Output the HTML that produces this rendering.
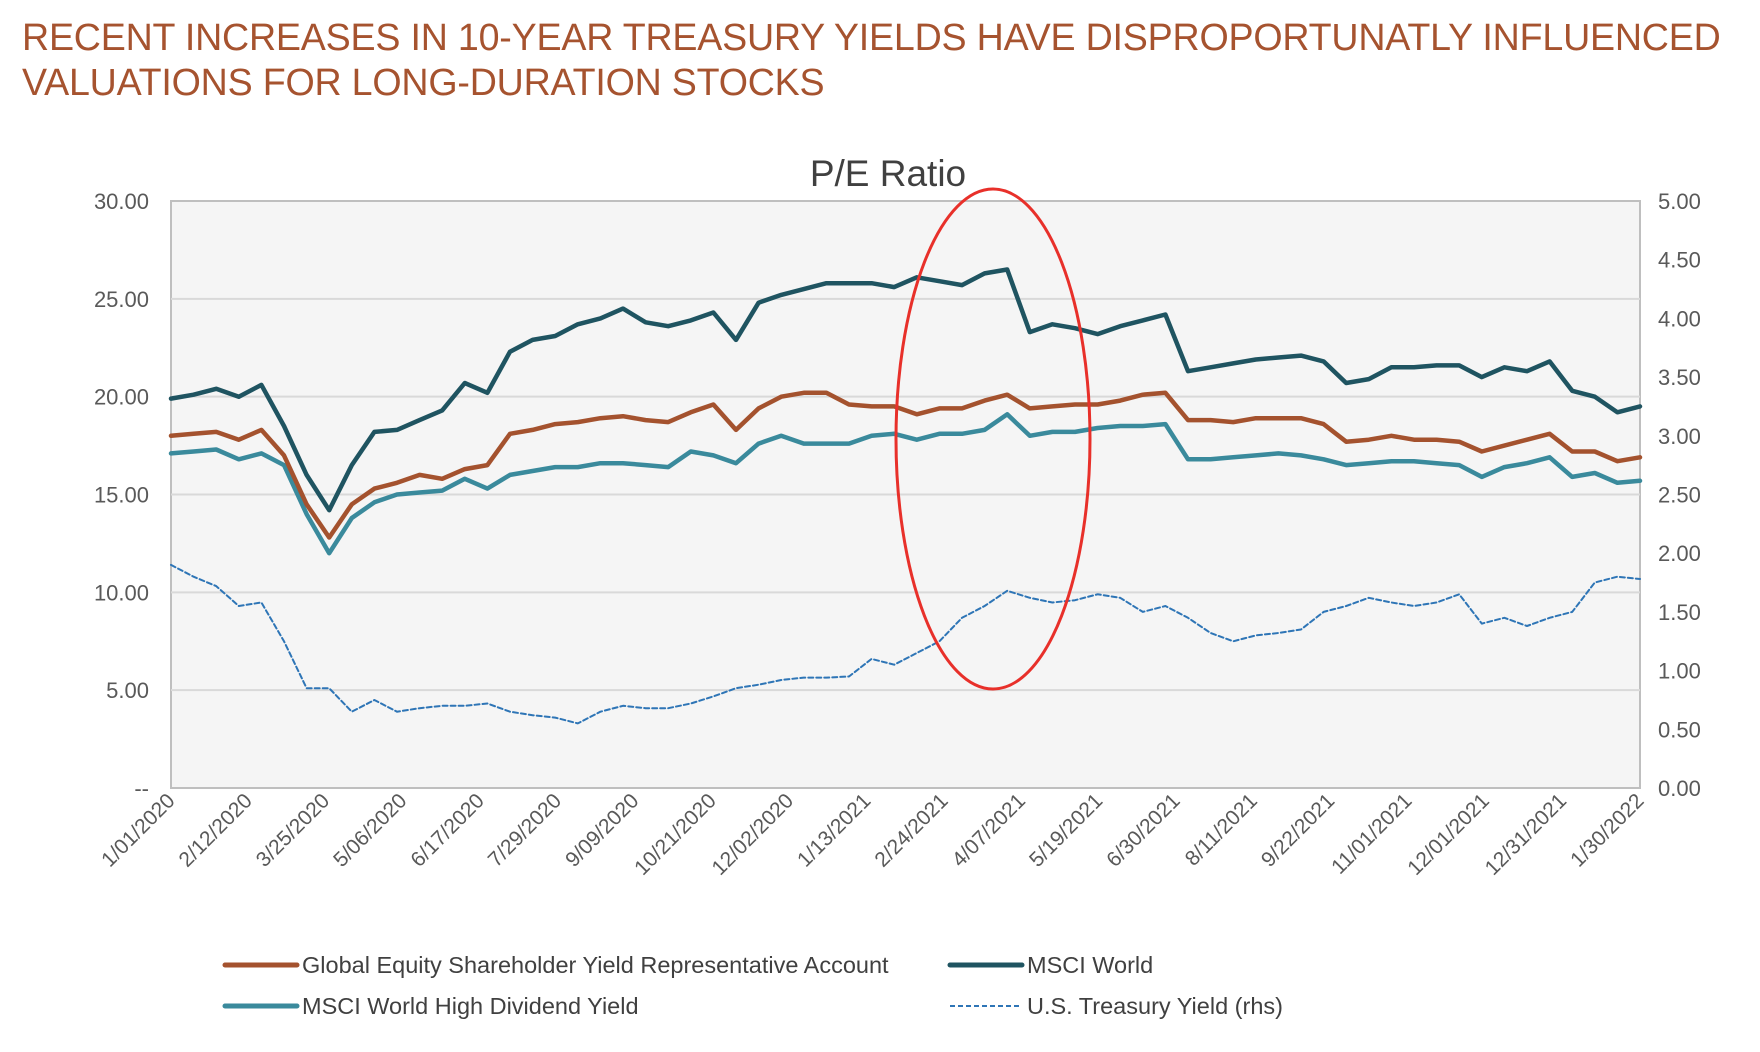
<!DOCTYPE html>
<html><head><meta charset="utf-8"><style>
body{margin:0;background:#fff;width:1760px;height:1052px;overflow:hidden;font-family:"Liberation Sans",sans-serif}
.title{position:absolute;left:22px;top:15px;color:#A6532F;font-size:37.6px;line-height:45px;letter-spacing:-0.2px}
</style></head><body>
<div class="title">RECENT INCREASES IN 10-YEAR TREASURY YIELDS HAVE DISPROPORTUNATLY INFLUENCED<br>VALUATIONS FOR LONG-DURATION STOCKS</div>
<svg id="chart" width="1760" height="1052" style="position:absolute;left:0;top:0"></svg>
<script>
const xLabels=["1/01/2020","2/12/2020","3/25/2020","5/06/2020","6/17/2020","7/29/2020","9/09/2020","10/21/2020","12/02/2020","1/13/2021","2/24/2021","4/07/2021","5/19/2021","6/30/2021","8/11/2021","9/22/2021","11/01/2021","12/01/2021","12/31/2021","1/30/2022"];
const leftTicks=[0,5,10,15,20,25,30];
const rightTicks=[0,0.5,1,1.5,2,2.5,3,3.5,4,4.5,5];
const msciWorld=[19.9,20.1,20.4,20.0,20.6,18.5,16.0,14.2,16.5,18.2,18.3,18.8,19.3,20.7,20.2,22.3,22.9,23.1,23.7,24.0,24.5,23.8,23.6,23.9,24.3,22.9,24.8,25.2,25.5,25.8,25.8,25.8,25.6,26.1,25.9,25.7,26.3,26.5,23.3,23.7,23.5,23.2,23.6,23.9,24.2,21.3,21.5,21.7,21.9,22.0,22.1,21.8,20.7,20.9,21.5,21.5,21.6,21.6,21.0,21.5,21.3,21.8,20.3,20.0,19.2,19.5];
const gesy=[18.0,18.1,18.2,17.8,18.3,17.0,14.5,12.8,14.5,15.3,15.6,16.0,15.8,16.3,16.5,18.1,18.3,18.6,18.7,18.9,19.0,18.8,18.7,19.2,19.6,18.3,19.4,20.0,20.2,20.2,19.6,19.5,19.5,19.1,19.4,19.4,19.8,20.1,19.4,19.5,19.6,19.6,19.8,20.1,20.2,18.8,18.8,18.7,18.9,18.9,18.9,18.6,17.7,17.8,18.0,17.8,17.8,17.7,17.2,17.5,17.8,18.1,17.2,17.2,16.7,16.9];
const highDiv=[17.1,17.2,17.3,16.8,17.1,16.5,14.0,12.0,13.8,14.6,15.0,15.1,15.2,15.8,15.3,16.0,16.2,16.4,16.4,16.6,16.6,16.5,16.4,17.2,17.0,16.6,17.6,18.0,17.6,17.6,17.6,18.0,18.1,17.8,18.1,18.1,18.3,19.1,18.0,18.2,18.2,18.4,18.5,18.5,18.6,16.8,16.8,16.9,17.0,17.1,17.0,16.8,16.5,16.6,16.7,16.7,16.6,16.5,15.9,16.4,16.6,16.9,15.9,16.1,15.6,15.7];
const treasury=[1.90,1.80,1.72,1.55,1.58,1.25,0.85,0.85,0.65,0.75,0.65,0.68,0.70,0.70,0.72,0.65,0.62,0.60,0.55,0.65,0.70,0.68,0.68,0.72,0.78,0.85,0.88,0.92,0.94,0.94,0.95,1.10,1.05,1.15,1.25,1.45,1.55,1.68,1.62,1.58,1.60,1.65,1.62,1.50,1.55,1.45,1.32,1.25,1.30,1.32,1.35,1.50,1.55,1.62,1.58,1.55,1.58,1.65,1.40,1.45,1.38,1.45,1.50,1.75,1.80,1.78];

const L=171,R=1640,T=201,B=788;
const NS="http://www.w3.org/2000/svg";
const svg=document.getElementById('chart');
function el(tag,attrs,parent){const e=document.createElementNS(NS,tag);for(const k in attrs)e.setAttribute(k,attrs[k]);(parent||svg).appendChild(e);return e;}
const xs=i=>L+(R-L)*i/(msciWorld.length-1);
const yl=v=>B-(B-T)*v/30;
const yr=v=>B-(B-T)*v/5;

const title=el('text',{x:888,y:186,'text-anchor':'middle','font-size':37,fill:'#404040'});
title.textContent='P/E Ratio';



const bg=el('rect',{x:L,y:T,width:R-L,height:B-T,fill:'#f5f5f5',stroke:'#bfbfbf','stroke-width':2});



leftTicks.forEach(v=>{
  if(v>0&&v<30){const g=el('line',{x1:L,x2:R,y1:yl(v),y2:yl(v),stroke:'#d9d9d9','stroke-width':2});
  
  }
  const t=el('text',{x:149,y:yl(v)+8,'text-anchor':'end','font-size':22,fill:'#595959'});
  t.textContent=v===0?'--':v.toFixed(2);
  
  
});
rightTicks.forEach(v=>{
  const t=el('text',{x:1658,y:yr(v)+8,'text-anchor':'start','font-size':22,fill:'#595959'});
  t.textContent=v.toFixed(2);
  
  
});
xLabels.forEach((lab,i)=>{
  const x=L+(R-L)*i/(xLabels.length-1);
  const t=el('text',{x:x+5,y:B+14,'text-anchor':'end','font-size':21,fill:'#595959',transform:`rotate(-45 ${x+5} ${B+14})`});
  t.textContent=lab;
  
  
});
function series(data,yf,color,w,dash,name){
  const d=data.map((v,i)=>(i?'L':'M')+xs(i).toFixed(1)+','+yf(v).toFixed(1)).join('');
  const p=el('path',{d:d,fill:'none',stroke:color,'stroke-width':w,'stroke-linejoin':'round','stroke-linecap':'round'});
  if(dash)p.setAttribute('stroke-dasharray',dash);
  
  
}
series(treasury,yr,'#2E75B6',2,'5,3','treasury-yield-line');
series(highDiv,yl,'#3A8A9C',4.5,null,'msci-high-dividend-line');
series(gesy,yl,'#A4522E',4.5,null,'global-equity-line');
series(msciWorld,yl,'#1F5461',4.5,null,'msci-world-line');

const ell=el('ellipse',{cx:993,cy:439,rx:97,ry:250,fill:'none',stroke:'#E8302A','stroke-width':3});



const legend=[[225,965,'#A4522E',null,'Global Equity Shareholder Yield Representative Account'],[950,965,'#1F5461',null,'MSCI World'],[225,1006,'#3A8A9C',null,'MSCI World High Dividend Yield'],[950,1006,'#2E75B6','5,3','U.S. Treasury Yield (rhs)']];
legend.forEach(([x,y,c,dash,txt])=>{
  const g=el('g',{});
  
  
  const ln=el('line',{x1:x,x2:x+72,y1:y,y2:y,stroke:c,'stroke-width':dash?2:5,'stroke-linecap':dash?'butt':'round'},g);
  if(dash)ln.setAttribute('stroke-dasharray',dash);
  const t=el('text',{x:x+77,y:y+8,'font-size':23.5,fill:'#404040'},g);
  t.textContent=txt;
});
</script>
</body></html>
